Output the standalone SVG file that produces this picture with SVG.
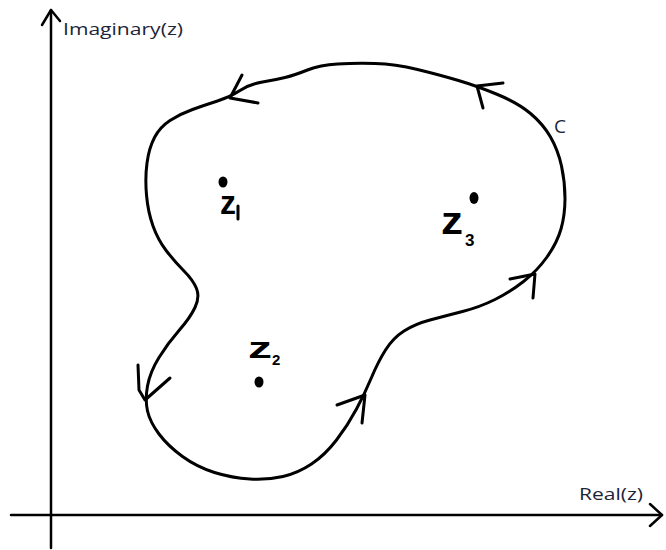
<svg xmlns="http://www.w3.org/2000/svg" width="666" height="550" viewBox="0 0 666 550">
<style>
.ax{fill:none;stroke:#000;stroke-width:2.5;stroke-linecap:round;stroke-linejoin:round}
.cv{fill:none;stroke:#000;stroke-width:3;stroke-linecap:round;stroke-linejoin:round}
.lbl{font-family:"Open Sans","Liberation Sans",sans-serif;fill:#1c2438}
.hz{font-family:"Liberation Sans",sans-serif;fill:#000;font-weight:bold}
</style>
<rect width="666" height="550" fill="#fff"/>
<g id="axes">
<path class="ax" d="M51,548 L51,10"/>
<path class="ax" d="M42,25 L51,10 L60,21"/>
<path class="ax" d="M11,515 L662,515"/>
<path class="ax" d="M650,504 L662,515 L650,526"/>
<text class="lbl" x="63" y="35" font-size="17" textLength="120" lengthAdjust="spacingAndGlyphs">Imaginary(z)</text>
<text class="lbl" x="579" y="500" font-size="17" textLength="64" lengthAdjust="spacingAndGlyphs">Real(z)</text>
</g>
<g id="contour">
<path class="cv" d="M307.5,70 Q320,65 337.5,64 Q355,63 375,63.5 Q395,64 417.5,69.5 Q440,75 458.5,80.5 Q477,86 497.5,94.5 Q518,103 530.5,113.5 Q543,124 550.5,137 Q558,150 561.5,166 Q565,182 565,198.5 Q565,215 561,229 Q557,243 547,257 Q537,271 523.5,281.5 Q510,292 495,299.5 Q480,307 462.5,311.5 Q445,316 430,320 Q415,324 404,331 Q393,338 385.5,350 Q378,362 371.5,377.5 Q365,393 356.5,409 Q348,425 336.5,440 Q325,455 311.5,464 Q298,473 283,476.5 Q268,480 250,479 Q232,478 214.5,472.5 Q197,467 182.5,456.5 Q168,446 159,434 Q150,422 147.5,411 Q145,400 147.5,386 Q150,372 159,357.5 Q168,343 179,330.5 Q190,318 195,307.5 Q200,297 196.5,288.5 Q193,280 184,271 Q175,262 166.5,251 Q158,240 153,226 Q148,212 146.5,195 Q145,178 147,163 Q149,148 154.5,137.5 Q160,127 170,120.5 Q180,114 192.5,109.5 Q205,105 217.5,101 Q230,97 240,90.5 Q250,84 262.5,82 Q275,80 285,77.5 Q295,75 307.5,70 Z"/>
<text class="lbl" x="554" y="133" font-size="19">C</text>
</g>
<g id="arrows">
<path class="cv" d="M242,75 L230,98 L258,103"/>
<path class="cv" d="M483,108 L477,86 L503,83"/>
<path class="cv" d="M510,279 L535,274 L533,298"/>
<path class="cv" d="M337,405 L365,395 L362,423"/>
<path class="cv" d="M138,365 L139,390 L145,400 L170,378"/>
</g>
<g id="z1">
<ellipse cx="223" cy="182" rx="4.5" ry="5.5"/>
<text class="hz" x="220" y="214" font-size="34" textLength="16" lengthAdjust="spacingAndGlyphs">z</text>
<path class="cv" d="M238,206 L238,219" stroke-width="2.5"/>
</g>
<g id="z2">
<ellipse cx="259" cy="382" rx="4.5" ry="5.5"/>
<text class="hz" x="248" y="358" font-size="29" textLength="24" lengthAdjust="spacingAndGlyphs">z</text>
<text class="hz" x="272" y="365" font-size="15">2</text>
</g>
<g id="z3">
<ellipse cx="474" cy="198" rx="4.5" ry="6"/>
<text class="hz" x="441" y="234" font-size="38" textLength="22" lengthAdjust="spacingAndGlyphs">z</text>
<text class="hz" x="465" y="246" font-size="17">3</text>
</g>
</svg>
